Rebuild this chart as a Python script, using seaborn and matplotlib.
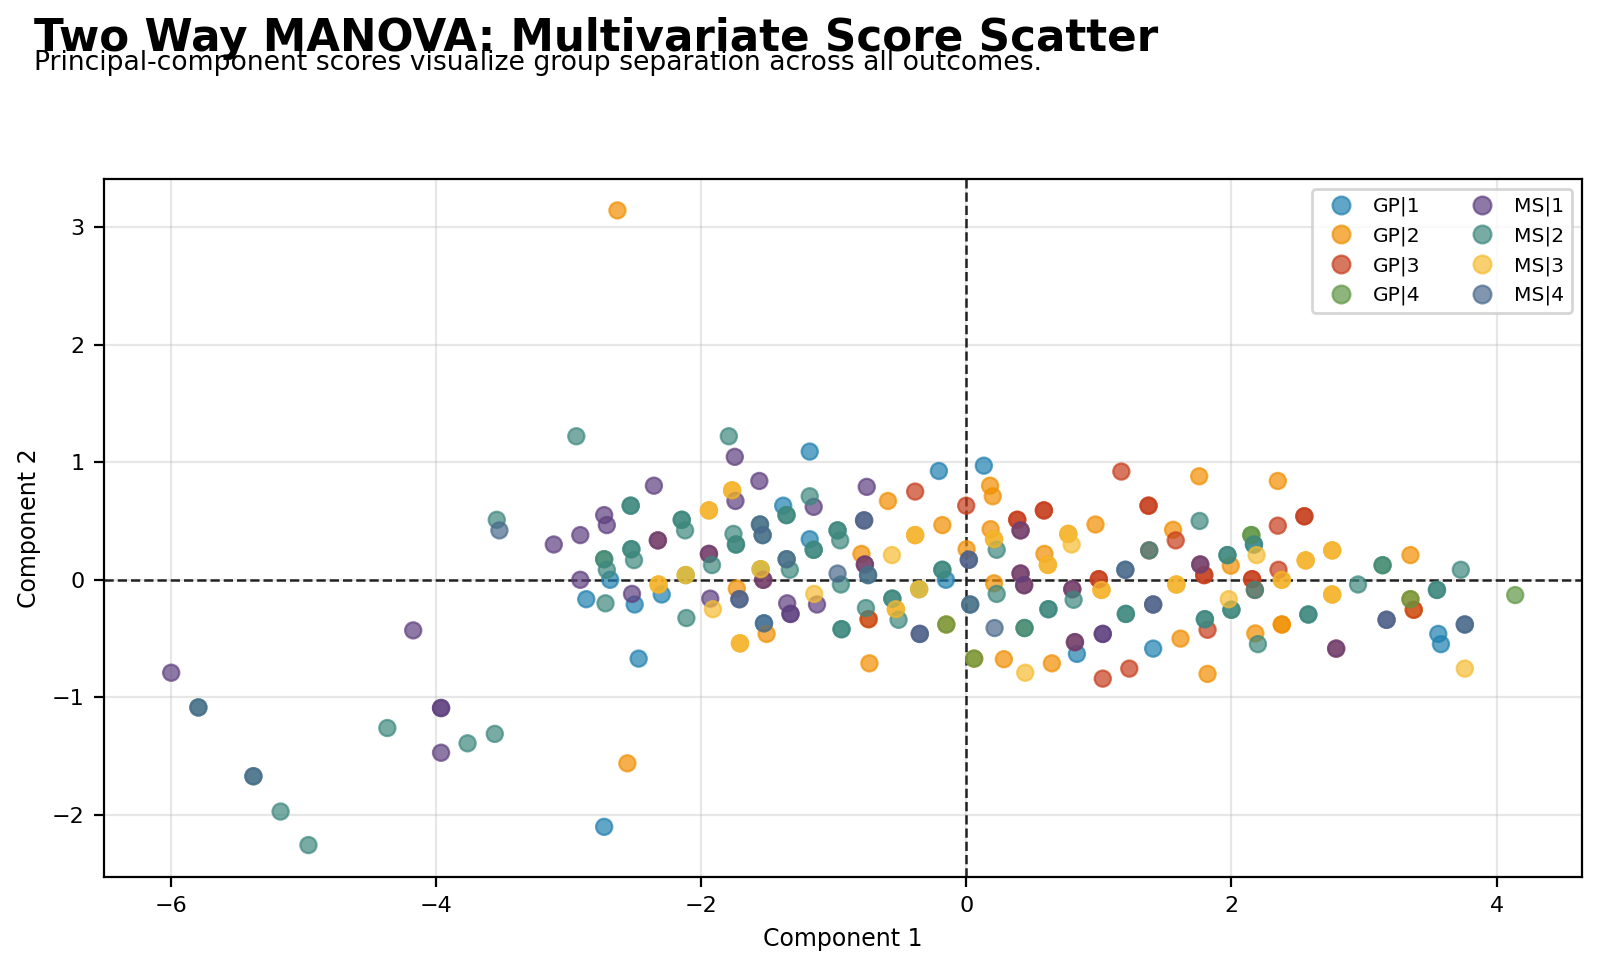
import pandas as pd
import seaborn as sns
import matplotlib.pyplot as plt

# group labels (school | study level) and colours
groups = ['GP|1', 'GP|2', 'GP|3', 'GP|4', 'MS|1', 'MS|2', 'MS|3', 'MS|4']
colors = ['#2080B0', '#F18F01', '#C73E1D', '#5F9845',
          '#5F4080', '#3D887E', '#F6BC33', '#4A6A8C']

# principal component scores, one list per group
gp1_x = [-2.73, -2.685, -2.865, -2.50, -2.296, -2.47, -1.38, -1.18, 0.133, -0.206,
         -1.18, -0.153, 0.835, 1.41, 3.56, 3.58, -1.525, 2.17]
gp1_y = [-2.10, 0.0, -0.165, -0.21, -0.125, -0.67, 0.63, 1.09, 0.97, 0.925,
         0.345, 0.0, -0.63, -0.585, -0.46, -0.547, -0.37, 0.30]

gp2_x = [-2.63, -2.555, -1.765, -1.94, -2.32, -1.73, -1.505, -1.706, -0.59, 0.18,
         0.20, -0.385, -0.18, -0.79, 0.003, -0.53, -0.736, -0.15, -0.73, 0.06,
         0.21, 0.21, 0.184, 0.284, 0.646, 0.59, 0.616, 0.77, 1.757, 2.35,
         0.975, 1.56, 1.995, 2.56, 2.76, 2.38, 1.02, 1.585, 2.38, 2.38,
         2.18, 1.616, 1.82, 2.76, 3.35, 3.35, 3.375]
gp2_y = [3.14, -1.56, 0.76, 0.59, -0.04, -0.075, -0.46, -0.54, 0.67, 0.80,
         0.71, 0.38, 0.465, 0.22, 0.26, -0.25, -0.335, -0.38, -0.71, -0.67,
         -0.03, 0.345, 0.43, -0.675, -0.71, 0.22, 0.127, 0.39, 0.88, 0.84,
         0.47, 0.425, 0.12, 0.165, 0.25, 0.0, -0.086, -0.04, -0.38, -0.38,
         -0.456, -0.50, -0.80, -0.125, 0.21, -0.165, -0.255]

gp3_x = [-2.325, -1.94, -1.53, -0.385, 0.0, -0.764, -0.736, 0.385, 0.385, 0.41,
         0.586, 0.586, 0.41, 0.437, 0.80, 0.82, 1.17, 1.375, 1.375, 1.58,
         1.38, 2.55, 2.55, 2.35, 1.765, 1.795, 1.795, 2.355, 2.156, 2.156,
         2.177, 1.0, 1.0, 1.82, 1.03, 1.23, 2.79, 3.375]
gp3_y = [0.335, 0.22, 0.0, 0.75, 0.63, 0.13, -0.335, 0.51, 0.51, 0.42,
         0.59, 0.59, 0.053, -0.046, -0.08, -0.53, 0.92, 0.63, 0.63, 0.335,
         0.25, 0.54, 0.54, 0.46, 0.13, 0.04, 0.04, 0.085, 0.005, 0.005,
         -0.086, 0.005, 0.005, -0.425, -0.84, -0.755, -0.585, -0.255]

gp4_x = [-2.73, -2.115, -1.55, -0.15, 0.06, 0.44, 2.15, 2.15, 3.14, 3.35, 4.14, -0.355]
gp4_y = [0.175, 0.04, 0.09, -0.38, -0.67, -0.41, 0.38, 0.38, 0.124, -0.165, -0.13, -0.08]

ms1_x = [-4.17, -5.995, -3.96, -3.96, -3.96, -1.745, -1.56, -2.355, -1.74, -2.73,
         -2.71, -3.11, -2.91, -2.325, -2.91, -2.52, -1.94, -1.53, -1.71, -1.93,
         -1.35, -1.325, -1.325, -0.75, -1.15, -0.77, -0.764, 0.02, -1.125, -0.35,
         0.41, 0.41, 0.437, 0.80, 0.82, 1.765, 1.41, 1.03, 1.03, 2.79, 3.17]
ms1_y = [-0.43, -0.79, -1.09, -1.09, -1.47, 1.045, 0.84, 0.80, 0.67, 0.55,
         0.465, 0.30, 0.38, 0.335, 0.0, -0.12, 0.22, 0.0, -0.165, -0.16,
         -0.20, -0.29, -0.29, 0.79, 0.62, 0.505, 0.13, 0.17, -0.21, -0.46,
         0.42, 0.053, -0.046, -0.08, -0.53, 0.13, -0.21, -0.46, -0.46, -0.585, -0.34]

ms2_x = [-3.54, -5.79, -5.375, -5.17, -4.96, -4.365, -3.76, -3.555, -2.94, -1.79,
         -1.355, -1.355, -2.53, -2.53, -2.145, -2.145, -2.12, -1.755, -1.736, -1.736,
         -1.555, -1.535, -2.525, -2.525, -2.505, -2.73, -2.71, -2.72, -1.917, -2.11,
         -1.354, -1.33, -1.18, -0.97, -0.97, -0.95, -1.15, -1.15, -0.945, -0.74,
         -0.18, -0.18, -0.94, -0.94, -0.756, -0.557, -0.557, -0.51, 0.03, 0.23,
         0.23, 0.44, 0.62, 0.62, 0.81, 1.76, 1.38, 2.17, 1.97, 1.97,
         2.177, 1.204, 1.204, 2.0, 2.0, 1.80, 1.80, 2.58, 2.58, 2.2,
         2.955, 3.14, 3.73, 3.55, 3.55]
ms2_y = [0.51, -1.085, -1.67, -1.97, -2.255, -1.26, -1.39, -1.31, 1.22, 1.22,
         0.55, 0.55, 0.63, 0.63, 0.51, 0.51, 0.42, 0.39, 0.30, 0.30,
         0.47, 0.38, 0.26, 0.26, 0.167, 0.175, 0.085, -0.20, 0.125, -0.325,
         0.175, 0.085, 0.71, 0.42, 0.42, 0.335, 0.255, 0.255, -0.04, 0.04,
         0.085, 0.085, -0.42, -0.42, -0.24, -0.16, -0.16, -0.34, -0.21, -0.12,
         0.255, -0.41, -0.25, -0.25, -0.17, 0.50, 0.25, 0.30, 0.21, 0.21,
         -0.086, -0.29, -0.29, -0.255, -0.255, -0.335, -0.335, -0.295, -0.295, -0.547,
         -0.04, 0.124, 0.085, -0.086, -0.086]

ms3_x = [-1.765, -1.94, -2.32, -1.91, -1.706, -2.115, -1.55, -1.146, -0.385, -0.56,
         -0.53, -0.355, 0.21, 0.445, 0.616, 0.77, 0.795, 2.19, 2.56, 2.76,
         2.38, 1.02, 1.585, 1.98, 2.76, 3.76]
ms3_y = [0.76, 0.59, -0.04, -0.25, -0.54, 0.04, 0.09, -0.12, 0.38, 0.21,
         -0.25, -0.08, 0.345, -0.79, 0.127, 0.39, 0.30, 0.21, 0.165, 0.25,
         0.0, -0.086, -0.04, -0.165, -0.125, -0.755]

ms4_x = [-3.52, -5.79, -5.375, -1.71, -1.525, -1.555, -1.535, -1.354, -0.97, -0.77,
         -0.74, 0.02, -0.35, 0.03, 0.214, 1.20, 1.20, 1.41, 3.17, 3.76, 3.76]
ms4_y = [0.42, -1.085, -1.67, -0.165, -0.37, 0.47, 0.38, 0.175, 0.053, 0.505,
         0.04, 0.17, -0.46, -0.21, -0.41, 0.085, 0.085, -0.21, -0.34, -0.38, -0.38]

xs = [gp1_x, gp2_x, gp3_x, gp4_x, ms1_x, ms2_x, ms3_x, ms4_x]
ys = [gp1_y, gp2_y, gp3_y, gp4_y, ms1_y, ms2_y, ms3_y, ms4_y]

frames = []
for g, x, y in zip(groups, xs, ys):
    frames.append(pd.DataFrame({'pc1': x, 'pc2': y, 'group': g}))
df = pd.concat(frames, ignore_index=True)

fig, ax = plt.subplots(figsize=(8, 4.855), dpi=200)
fig.subplots_adjust(left=0.065, right=0.989, bottom=0.097, top=0.816)

sns.scatterplot(
    data=df, x='pc1', y='pc2', hue='group', hue_order=groups,
    palette=dict(zip(groups, colors)), alpha=0.7, s=34,
    edgecolor='face', linewidth=0.8, ax=ax, zorder=3
)

ax.axhline(0, color='#222222', linestyle='--', linewidth=0.9, zorder=2)
ax.axvline(0, color='#222222', linestyle='--', linewidth=0.9, zorder=2)
ax.grid(True, alpha=0.3, zorder=0)
ax.set_axisbelow(True)

ax.set_xlabel('Component 1', fontsize=8.5)
ax.set_ylabel('Component 2', fontsize=8.5)
ax.tick_params(labelsize=8)

ax.legend(loc='upper right', ncol=2, fontsize=7.3, title=None,
          markerscale=1.1, handletextpad=0.6, columnspacing=2.0)

fig.text(0.021, 0.947, 'Two Way MANOVA: Multivariate Score Scatter',
         fontsize=15.7, fontweight='bold', va='baseline')
fig.text(0.021, 0.928,
         'Principal-component scores visualize group separation across all outcomes.',
         fontsize=9.6, va='baseline')

plt.savefig('out.png', dpi=200)
plt.close()
